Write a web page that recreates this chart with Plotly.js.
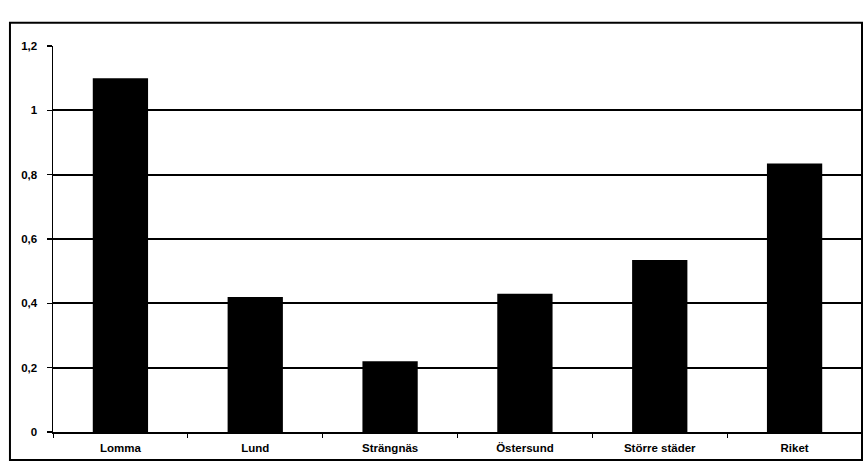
<!DOCTYPE html>
<html><head><meta charset="utf-8">
<script src="https://cdn.plot.ly/plotly-3.0.1.min.js"></script>
<style>html,body{margin:0;padding:0;background:#fff}#chart{width:866px;height:471px}</style>
</head><body><div id="chart"></div>
<script>
const categories = ["Lomma", "Lund", "Strängnäs", "Östersund", "Större städer", "Riket"];
const values = [1.10, 0.42, 0.22, 0.43, 0.535, 0.835];
const yTicks = [0, 0.2, 0.4, 0.6, 0.8, 1, 1.2];

const trace = {
  type: "bar",
  x: categories,
  y: values,
  marker: {color: "#000000", line: {width: 0}},
  hoverinfo: "skip"
};

const layout = {
  width: 866, height: 471,
  margin: {l: 53, r: 4, t: 46, b: 39, pad: 0},
  paper_bgcolor: "#ffffff", plot_bgcolor: "#ffffff",
  separators: ",.",
  showlegend: false,
  bargap: 0.59,
  font: {family: "Liberation Sans, Arial, sans-serif", size: 11, color: "#000"},
  xaxis: {
    type: "category",
    range: [-0.5, 5.5],
    showgrid: false,
    showline: true, linecolor: "#000", linewidth: 1.5,
    ticks: "outside", ticklen: 4, tickcolor: "#000", tickwidth: 1,
    tickson: "boundaries",
    ticklabelstandoff: 5,
    tickfont: {family: "Liberation Sans, Arial, sans-serif", size: 11.5, weight: "bold", color: "#000"},
    zeroline: false
  },
  yaxis: {
    range: [0, 1.2],
    tickvals: yTicks,
    showgrid: true, gridcolor: "#000", gridwidth: 1.8,
    showline: true, linecolor: "#000", linewidth: 1.5,
    ticks: "outside", ticklen: 5, tickcolor: "#000", tickwidth: 1.5,
    ticklabelstandoff: 7,
    tickfont: {family: "Liberation Sans, Arial, sans-serif", size: 11.5, weight: "bold", color: "#000"},
    zeroline: false
  },
  shapes: [{
    type: "rect", xref: "paper", yref: "paper",
    x0: -0.0532, x1: 1.0, y0: -0.0725, y1: 1.06,
    line: {color: "#000", width: 2}, fillcolor: "rgba(0,0,0,0)", layer: "above"
  }]
};

Plotly.newPlot("chart", [trace], layout, {staticPlot: true, displayModeBar: false});
</script></body></html>
